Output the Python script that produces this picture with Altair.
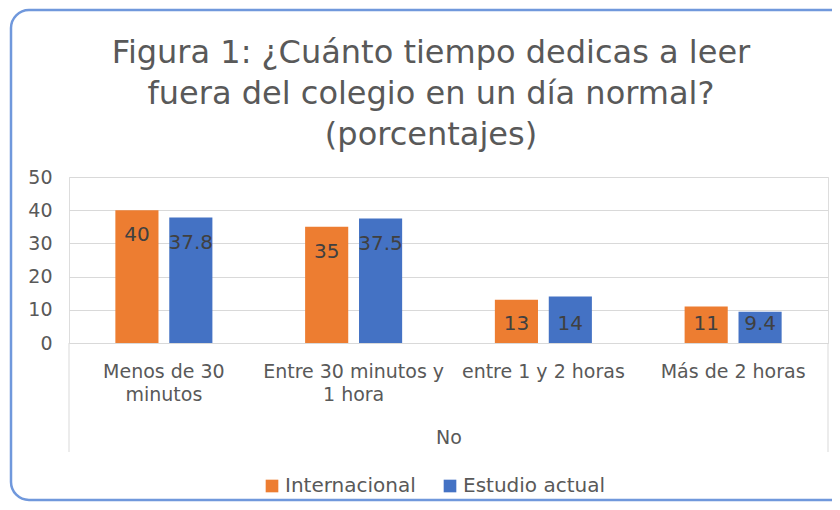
import altair as alt
import pandas as pd

categories = ["Menos de 30\nminutos", "Entre 30 minutos y\n1 hora", "entre 1 y 2 horas", "Más de 2 horas"]
series = ["Internacional", "Estudio actual"]
internacional = [40, 35, 13, 11]
estudio_actual = [37.8, 37.5, 14, 9.4]
title_lines = ["Figura 1: ¿Cuánto tiempo dedicas a leer", "fuera del colegio en un día normal?", "(porcentajes)"]
y_ticks = [0, 10, 20, 30, 40, 50]
colors = ["#ED7D31", "#4472C4"]

rows = []
for c, a, b in zip(categories, internacional, estudio_actual):
    rows.append({"cat": c, "serie": series[0], "valor": a})
    rows.append({"cat": c, "serie": series[1], "valor": b})
df = pd.DataFrame(rows)
one = pd.DataFrame({"k": [0]})

FONT = "DejaVu Sans"
GREY = "#595959"
W, H = 759, 166

x_enc = alt.X("cat:N", sort=categories,
              scale=alt.Scale(paddingInner=0, paddingOuter=0),
              axis=alt.Axis(title="No", labelExpr="split(datum.label, '\\n')",
                            labelAngle=0, labelFontSize=19, labelColor=GREY, labelFont=FONT,
                            labelLineHeight=23, labelPadding=19, labelLimit=400,
                            labelOverlap=False, ticks=False, tickSize=0,
                            domain=True, domainColor="#d9d9d9", domainWidth=1,
                            titleFontSize=19, titleFontWeight="normal", titleColor=GREY,
                            titleFont=FONT, titlePadding=24))
xo_enc = alt.XOffset("serie:N", sort=series,
                     scale=alt.Scale(paddingInner=0.2, paddingOuter=0.86))
y_axis = alt.Axis(title=None, values=y_ticks, tickCount=6, domain=False, ticks=False,
                  grid=True, gridColor="#d9d9d9", gridWidth=1, labelOverlap=False,
                  labelFontSize=19, labelColor=GREY, labelFont=FONT, labelPadding=17)
y_scale = alt.Scale(domain=[0, 50], nice=False)
y_enc = alt.Y("valor:Q", scale=y_scale, axis=y_axis)

bars = alt.Chart(df).mark_bar().encode(
    x=x_enc, xOffset=xo_enc, y=y_enc,
    color=alt.Color("serie:N", sort=series,
                    scale=alt.Scale(domain=series, range=colors),
                    legend=alt.Legend(title=None, orient="none", direction="horizontal",
                                      legendX=193, legendY=299,
                                      symbolType="square", symbolSize=160,
                                      symbolStrokeWidth=0, labelFontSize=20,
                                      labelColor=GREY, labelFont=FONT,
                                      labelOffset=3, columnPadding=24))
)

labels_tall = alt.Chart(df).transform_filter("datum.valor >= 20").mark_text(
    fontSize=20, font=FONT, color="#404040", baseline="alphabetic", dy=31
).encode(x=x_enc, xOffset=xo_enc, y=y_enc, text=alt.Text("valor:Q"))

labels_short = alt.Chart(df).transform_filter("datum.valor < 20").mark_text(
    fontSize=20, font=FONT, color="#404040", baseline="alphabetic", dy=-13
).encode(x=x_enc, xOffset=xo_enc, y=alt.datum(0, scale=y_scale, axis=y_axis), text=alt.Text("valor:Q"))

box_left = alt.Chart(one).mark_rule(color="#d9d9d9", strokeWidth=1).encode(
    x=alt.value(0), y=alt.value(H), y2=alt.value(275))
box_right = alt.Chart(one).mark_rule(color="#d9d9d9", strokeWidth=1).encode(
    x=alt.value(W), y=alt.value(H), y2=alt.value(275))

border = alt.Chart(one).mark_rect(
    fill="white", fillOpacity=0, stroke="#7098dc", strokeWidth=2.5, cornerRadius=18
).encode(x=alt.value(-58), x2=alt.value(800), y=alt.value(-167), y2=alt.value(323))

title = alt.Chart(one).mark_text(
    text=title_lines, fontSize=32, font=FONT, color=GREY, align="center",
    baseline="alphabetic", lineHeight=41
).encode(x=alt.value(362), y=alt.value(-114))

chart = alt.layer(border, box_left, box_right, bars, labels_tall, labels_short, title).properties(
    width=W, height=H,
    autosize=alt.AutoSizeParams(type="none"),
    padding={"left": 61, "top": 169, "right": 4, "bottom": 159},
).configure_view(stroke=None).configure(background="white")

chart.save("out.html", embed_options={"renderer": "svg", "actions": False})
